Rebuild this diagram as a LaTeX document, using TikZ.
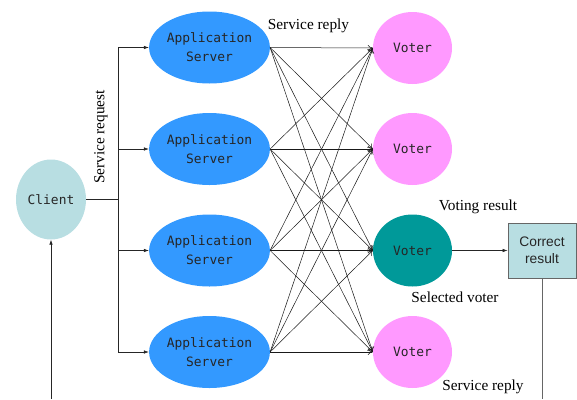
\documentclass[tikz,border=0pt]{standalone}
\usepackage{fontspec}
\setmainfont{Liberation Serif}
\newfontfamily\monof{DejaVu Sans Mono}
\newfontfamily\sansf{Liberation Sans}
\usetikzlibrary{shapes.geometric,arrows.meta}
\definecolor{srvblue}{RGB}{51,153,255}
\definecolor{votpink}{RGB}{255,153,255}
\definecolor{selteal}{RGB}{0,153,153}
\definecolor{clientblue}{RGB}{184,222,226}
\begin{document}
\begin{tikzpicture}[x=1pt,y=-1pt,
  srv/.style={ellipse,fill=srvblue,minimum width=119pt,minimum height=72pt,inner sep=0pt,align=center,font=\monof\fontsize{12.9}{19}\selectfont,text=black!85},
  vot/.style={ellipse,fill=votpink,minimum width=79pt,minimum height=72pt,inner sep=0pt,font=\monof\fontsize{12.9}{19}\selectfont,text=black!85},
  lbl/.style={font=\fontsize{15.3}{17}\selectfont,inner sep=0pt},
  wire/.style={draw=black!85,line width=0.6pt},
  fwd/.style={wire,-{Latex[length=5pt,width=3.5pt]}},
  mesh/.style={draw=black!90,line width=0.5pt,-{To[length=5pt,width=6pt]}}
]
\useasboundingbox (0,0) rectangle (577,399);
\node[ellipse,fill=clientblue,minimum width=70pt,minimum height=80pt,inner sep=0pt,font=\monof\fontsize{12.9}{19}\selectfont,text=black!85] (client) at (51,199.5) {Client};
\node[srv] (s1) at (209.5,47.5) {Application\\Server};
\node[srv] (s2) at (209.5,149) {Application\\Server};
\node[srv] (s3) at (209.5,250.5) {Application\\Server};
\node[srv] (s4) at (209.5,352) {Application\\Server};
\node[vot] (v1) at (412.5,48) {Voter};
\node[vot] (v2) at (412.5,149) {Voter};
\node[vot,fill=selteal] (v3) at (412.5,250.5) {Voter};
\node[vot] (v4) at (412.5,352) {Voter};
\node[rectangle,draw=black!60,line width=0.8pt,fill=clientblue,minimum width=68pt,minimum height=55pt,inner sep=0pt,align=center,font=\sansf\fontsize{13.8}{17}\selectfont,text=black!85] (box) at (542,250.5) {Correct\\result};
% bus
\coordinate (bus) at (118,199.5);
\coordinate (bt) at (118,47.5);
\coordinate (bb) at (118,352);
\draw[wire] (client.east) -- (bus);
\draw[wire] (bt) -- (bb);
\foreach \s in {s1,s2,s3,s4}{
  \draw[fwd] (bt |- \s.west) -- (\s.west);
}
% mesh
\foreach \s in {s1,s2,s3,s4}{
  \foreach \v in {v1,v2,v3,v4}{
    \draw[mesh] (\s.east) -- (\v.west);
  }
}
% result
\draw[fwd] (v3.east) -- (box.west);
\coordinate (boxend) at (542,399);
\draw[draw=black!60,line width=0.8pt] (box.south) -- (boxend);
\coordinate (clend) at (51,399);
\draw[fwd] (clend) -- (client.south);
% labels
\node[lbl,rotate=90] (sreq) at (101,137) {Service request};
\node[lbl] (srep1) at (308.5,26) {Service reply};
\node[lbl] (vres) at (478,207) {Voting result};
\node[lbl] (selv) at (455,297.5) {Selected voter};
\node[lbl] (srep2) at (483,386.5) {Service reply};
\end{tikzpicture}
\end{document}
